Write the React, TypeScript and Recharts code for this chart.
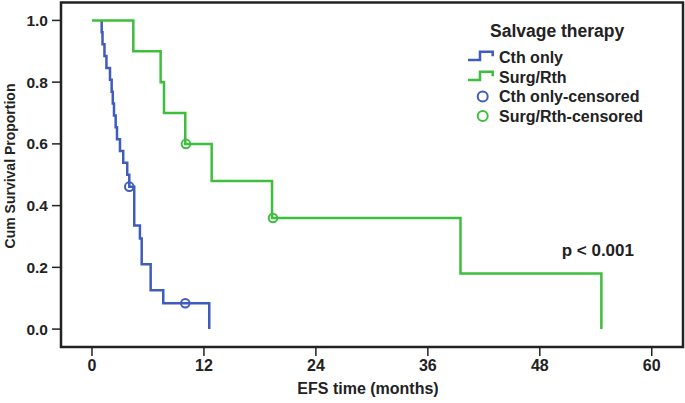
import React from 'react';
import { ComposedChart, Line, XAxis, YAxis, ReferenceArea } from 'recharts';

const blueTimes = [1.04, 1.04, 1.13, 1.34, 1.55, 1.93, 2.11, 2.23, 2.36, 2.54, 2.68, 3.0, 3.35, 3.78, 4.0, 4.53, 5.14, 5.33, 6.29, 7.64, 12.57];
const blueSurv = [1.0, 0.9615, 0.9231, 0.8846, 0.8462, 0.8077, 0.7692, 0.7308, 0.6923, 0.6538, 0.6154, 0.5769, 0.5385, 0.5, 0.4615, 0.3357, 0.2937, 0.2098, 0.1259, 0.0839, 0];
const blueCensorTimes = [4.0, 10.0];
const blueCensorSurv = [0.4615, 0.0839];

const greenTimes = [0, 4.43, 7.36, 7.72, 10.0, 12.83, 19.3, 39.5, 54.6];
const greenSurv = [1.0, 0.9, 0.8, 0.7, 0.6, 0.48, 0.36, 0.18, 0];
const greenCensorTimes = [10.07, 19.4];
const greenCensorSurv = [0.6, 0.36];

const xTicks = [0, 12, 24, 36, 48, 60];
const yTicks = [0, 0.2, 0.4, 0.6, 0.8, 1.0];
const legendLabels = ['Cth only', 'Surg/Rth', 'Cth only-censored', 'Surg/Rth-censored'];

const BLUE = '#3F5BBD';
const GREEN = '#3DBE3D';
const DARK = '#222222';
const FONT = '"Liberation Sans", Arial, sans-serif';

const X_DOMAIN: [number, number] = [-3.32, 63.35];
const Y_DOMAIN: [number, number] = [-0.058, 1.058];

const zip = (t: number[], s: number[]) => t.map((v, i) => ({ t: v, s: s[i] }));

const blueData = zip(blueTimes, blueSurv);
const greenData = zip(greenTimes, greenSurv);
const blueCensor = zip(blueCensorTimes, blueCensorSurv);
const greenCensor = zip(greenCensorTimes, greenCensorSurv);

const tickStyle = { fontSize: 15.5, fontWeight: 'bold' as const, fill: DARK, fontFamily: FONT };

export default function App() {
  const rows = [57.7, 77.7, 96.5, 116];
  return (
    <div style={{ position: 'absolute', left: 0, top: 0, width: 685, height: 403, background: '#fff', fontFamily: FONT }}>
      <ComposedChart width={685} height={403} margin={{ top: 2.5, right: 2, bottom: 0, left: 0 }}>
        <XAxis
          type="number"
          dataKey="t"
          domain={X_DOMAIN}
          ticks={xTicks}
          allowDataOverflow
          axisLine={false}
          tickSize={9}
          tickMargin={4}
          tickLine={{ stroke: DARK, strokeWidth: 1.5 }}
          tick={{ ...tickStyle, fontSize: 16 }}
          height={56}
        />
        <YAxis
          type="number"
          dataKey="s"
          domain={Y_DOMAIN}
          ticks={yTicks}
          allowDataOverflow
          axisLine={false}
          width={61}
          tickSize={9}
          tickMargin={4}
          tickLine={{ stroke: DARK, strokeWidth: 1.5 }}
          tick={tickStyle}
          tickFormatter={(v: number) => v.toFixed(1)}
        />
        <Line data={blueData} dataKey="s" type="stepAfter" stroke={BLUE} strokeWidth={2.5} dot={false} isAnimationActive={false} />
        <Line data={greenData} dataKey="s" type="stepAfter" stroke={GREEN} strokeWidth={2.5} dot={false} isAnimationActive={false} />
        <Line data={blueCensor} dataKey="s" stroke="none" strokeWidth={0} dot={{ r: 4.3, fill: 'none', stroke: BLUE, strokeWidth: 2 }} isAnimationActive={false} />
        <Line data={greenCensor} dataKey="s" stroke="none" strokeWidth={0} dot={{ r: 4.3, fill: 'none', stroke: GREEN, strokeWidth: 2 }} isAnimationActive={false} />
        <ReferenceArea x1={X_DOMAIN[0]} x2={X_DOMAIN[1]} y1={Y_DOMAIN[0]} y2={Y_DOMAIN[1]} fill="none" fillOpacity={0} stroke={DARK} strokeWidth={2.5} ifOverflow="visible" />
      </ComposedChart>
      <svg width={685} height={403} style={{ position: 'absolute', left: 0, top: 0, pointerEvents: 'none' }}>
        <text x={15} y={166} transform="rotate(-90 15 166)" textAnchor="middle" fontSize={14} fontWeight="bold" fill={DARK} fontFamily={FONT}>Cum Survival Proportion</text>
        <text x={368} y={393.7} textAnchor="middle" fontSize={16} fontWeight="bold" fill={DARK} fontFamily={FONT}>EFS time (months)</text>
        <text x={561.7} y={256} fontSize={17} fontWeight="bold" fill={DARK} fontFamily={FONT}>p &lt; 0.001</text>
        <text x={490} y={37} fontSize={17.5} fontWeight="bold" fill={DARK} fontFamily={FONT}>Salvage therapy</text>
        {[BLUE, GREEN].map((c, i) => (
          <path key={'s' + i} d={`M468 ${rows[i] + 2.3} H480 V${rows[i] - 6} H492.7 V${rows[i] - 1.5}`} fill="none" stroke={c} strokeWidth={2.5} />
        ))}
        {[BLUE, GREEN].map((c, i) => (
          <circle key={'c' + i} cx={482.7} cy={rows[i + 2]} r={5} fill="none" stroke={c} strokeWidth={2} />
        ))}
        {legendLabels.map((l, i) => (
          <text key={l} x={499} y={rows[i] + 5.7} fontSize={16} fontWeight="bold" fill={DARK} fontFamily={FONT}>{l}</text>
        ))}
      </svg>
    </div>
  );
}
